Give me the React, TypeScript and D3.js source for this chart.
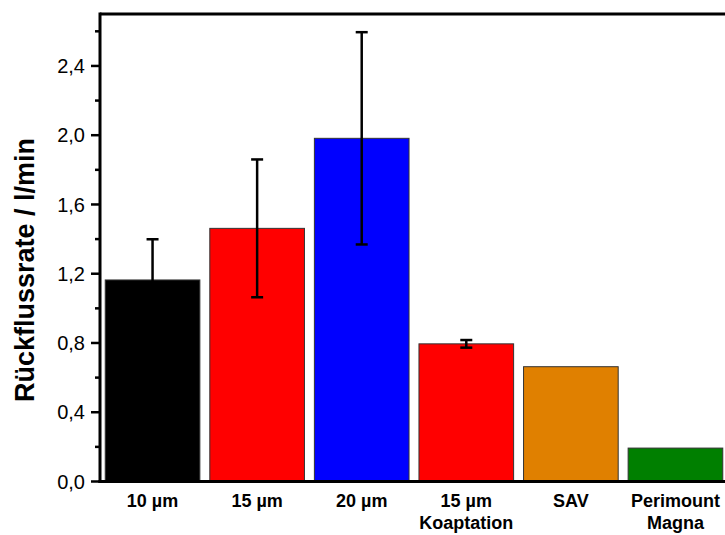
import React from "react";
import * as d3 from "d3";

const categories = ["10 µm", "15 µm", "20 µm", "15 µm\nKoaptation", "SAV", "Perimount\nMagna"];
const values = [1.164, 1.462, 1.982, 0.795, 0.663, 0.193];
const errors = [0.235, 0.398, 0.613, 0.022, 0, 0];
const colors = ["#000000", "#ff0000", "#0000ff", "#ff0000", "#e08000", "#007f00"];
const majorTicks = [0, 0.4, 0.8, 1.2, 1.6, 2.0, 2.4];
const minorTicks = [0.2, 0.6, 1.0, 1.4, 1.8, 2.2, 2.6];
const yTitle = "Rückflussrate / l/min";

const W = 725, H = 535;
const left = 100, right = 728, top = 14, bottom = 481.5;

export default function App() {
  const x = d3.scaleBand<string>().domain(categories).range([left, right]).paddingInner(0.095).paddingOuter(0.05);
  const y = d3.scaleLinear().domain([0, 2.7]).range([bottom, top]);
  const fmt = (v: number) => v.toFixed(1).replace(".", ",");
  return (
    <svg width={W} height={H} style={{ position: "absolute", left: 0, top: 0, background: "#fff" }}
      fontFamily="'Liberation Sans', Arial, sans-serif">
      {categories.map((c, i) => (
        <rect key={c} x={x(c)} y={y(values[i])} width={x.bandwidth()} height={bottom - y(values[i])}
          fill={colors[i]} stroke="#333" strokeWidth={1} />
      ))}
      {categories.map((c, i) => {
        if (!errors[i]) return null;
        const cx = (x(c) as number) + x.bandwidth() / 2;
        const y1 = y(values[i] + errors[i]);
        const y2 = y(values[i] - errors[i]);
        return (
          <g key={"e" + c} stroke="#000" strokeWidth={2.5}>
            <line x1={cx} x2={cx} y1={y1} y2={y2} />
            <line x1={cx - 6} x2={cx + 6} y1={y1} y2={y1} />
            <line x1={cx - 6} x2={cx + 6} y1={y2} y2={y2} />
          </g>
        );
      })}
      {/* axes frame */}
      <line x1={left} x2={W} y1={top} y2={top} stroke="#000" strokeWidth={3} />
      <line x1={left} x2={left} y1={top - 1.5} y2={bottom + 1.5} stroke="#000" strokeWidth={3} />
      <line x1={left - 1.5} x2={W} y1={bottom} y2={bottom} stroke="#000" strokeWidth={3} />
      {majorTicks.map((t) => (
        <g key={"t" + t}>
          <line x1={left - 9} x2={left} y1={y(t)} y2={y(t)} stroke="#000" strokeWidth={2.5} />
          <text x={left - 15} y={y(t)} dy="0.36em" textAnchor="end" fontSize={20} fill="#000">{fmt(t)}</text>
        </g>
      ))}
      {minorTicks.map((t) => (
        <line key={"m" + t} x1={left - 5} x2={left} y1={y(t)} y2={y(t)} stroke="#000" strokeWidth={2.5} />
      ))}
      {categories.map((c) => {
        const cx = (x(c) as number) + x.bandwidth() / 2;
        const lines = c.split("\n");
        return (
          <text key={"l" + c} x={cx} y={507} textAnchor="middle" fontSize={18} fontWeight="bold" fill="#000">
            {lines.map((l, j) => (
              <tspan key={j} x={cx} dy={j === 0 ? 0 : 22}>{l}</tspan>
            ))}
          </text>
        );
      })}
      <text transform={`translate(34, ${270}) rotate(-90)`} textAnchor="middle" fontSize={27} fontWeight="bold" fill="#000">
        {yTitle}
      </text>
    </svg>
  );
}
